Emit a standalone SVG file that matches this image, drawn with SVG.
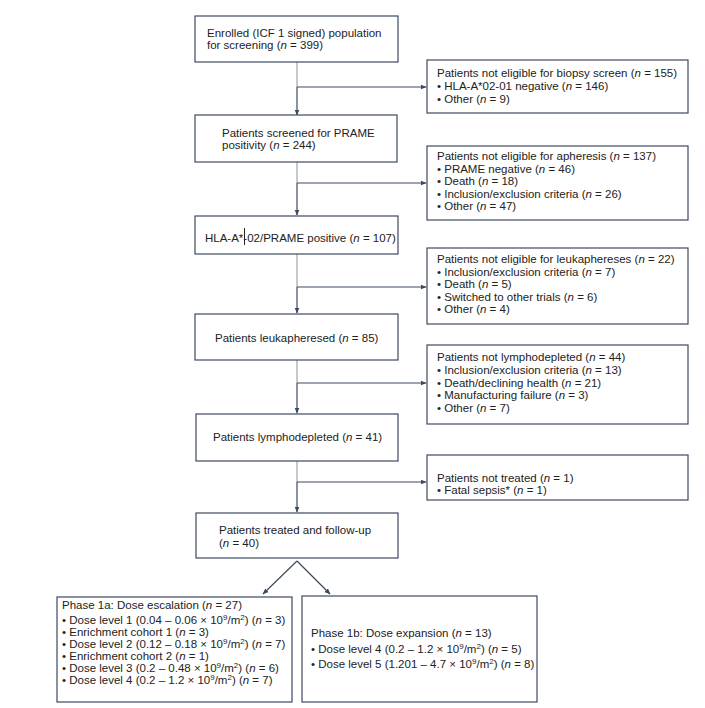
<svg xmlns="http://www.w3.org/2000/svg" width="705" height="708" viewBox="0 0 705 708">
<style>
.box{fill:#fff;stroke:#3b4a5e;stroke-width:1.2}
text{font-family:"Liberation Sans",Arial,sans-serif;font-size:11.5px;fill:#222}
.i{font-style:italic}
.sup{font-size:8px}
.up{stroke:#a0a4aa;stroke-width:1.2;fill:none}
.dn{stroke:#3b4a5e;stroke-width:1.2;fill:none}
</style>
<defs>
<marker id="ah" markerWidth="6" markerHeight="6" refX="5.5" refY="3" orient="auto" markerUnits="userSpaceOnUse">
<path d="M0,0.5 L6,3 L0,5.5 z" fill="#3b4a5e"/>
</marker>
</defs>
<rect width="705" height="708" fill="#fff"/>
<g id="connectors">
<line class="up" x1="297" y1="62" x2="297" y2="87"/>
<line class="dn" x1="297" y1="87" x2="297" y2="115" marker-end="url(#ah)"/>
<line class="dn" x1="297" y1="87" x2="426" y2="87" marker-end="url(#ah)"/>
<line class="up" x1="297" y1="162" x2="297" y2="183"/>
<line class="dn" x1="297" y1="183" x2="297" y2="215" marker-end="url(#ah)"/>
<line class="dn" x1="297" y1="183" x2="426" y2="183" marker-end="url(#ah)"/>
<line class="up" x1="297" y1="254" x2="297" y2="287"/>
<line class="dn" x1="297" y1="287" x2="297" y2="313" marker-end="url(#ah)"/>
<line class="dn" x1="297" y1="287" x2="426" y2="287" marker-end="url(#ah)"/>
<line class="up" x1="297" y1="360" x2="297" y2="383"/>
<line class="dn" x1="297" y1="383" x2="297" y2="413" marker-end="url(#ah)"/>
<line class="dn" x1="297" y1="383" x2="426" y2="383" marker-end="url(#ah)"/>
<line class="up" x1="297" y1="461" x2="297" y2="482"/>
<line class="dn" x1="297" y1="482" x2="297" y2="512" marker-end="url(#ah)"/>
<line class="dn" x1="297" y1="482" x2="426" y2="482" marker-end="url(#ah)"/>
<line class="dn" x1="297" y1="561" x2="263" y2="594" marker-end="url(#ah)"/>
<line class="dn" x1="297" y1="561" x2="330" y2="594" marker-end="url(#ah)"/>
</g>
<g id="enrolled">
<rect class="box" x="195" y="16" width="203" height="46"/>
<text x="207" y="37">Enrolled (ICF 1 signed) population</text>
<text x="207" y="49">for screening (<tspan class="i">n</tspan> = 399)</text>
</g>
<g id="excl1">
<rect class="box" x="427" y="60" width="261" height="53"/>
<text x="437" y="77">Patients not eligible for biopsy screen (<tspan class="i">n</tspan> = 155)</text>
<text x="437" y="90">• HLA-A*02-01 negative (<tspan class="i">n</tspan> = 146)</text>
<text x="437" y="103">• Other (<tspan class="i">n</tspan> = 9)</text>
</g>
<g id="screened">
<rect class="box" x="195" y="115" width="202" height="47"/>
<text x="222" y="137">Patients screened for PRAME</text>
<text x="222" y="149">positivity (<tspan class="i">n</tspan> = 244)</text>
</g>
<g id="excl2">
<rect class="box" x="427" y="146" width="261" height="74"/>
<text x="437" y="160">Patients not eligible for apheresis (<tspan class="i">n</tspan> = 137)</text>
<text x="437" y="172.5">• PRAME negative (<tspan class="i">n</tspan> = 46)</text>
<text x="437" y="185">• Death (<tspan class="i">n</tspan> = 18)</text>
<text x="437" y="197.5">• Inclusion/exclusion criteria (<tspan class="i">n</tspan> = 26)</text>
<text x="437" y="210">• Other (<tspan class="i">n</tspan> = 47)</text>
</g>
<g id="positive">
<rect class="box" x="195" y="216" width="203" height="38"/>
<text x="205" y="242">HLA-A*-02/PRAME positive (<tspan class="i">n</tspan> = 107)</text>
<line x1="244.5" y1="228" x2="244.5" y2="245" stroke="#222" stroke-width="1"/>
</g>
<g id="excl3">
<rect class="box" x="427" y="248" width="261" height="76"/>
<text x="437" y="263">Patients not eligible for leukaphereses (<tspan class="i">n</tspan> = 22)</text>
<text x="437" y="275.5">• Inclusion/exclusion criteria (<tspan class="i">n</tspan> = 7)</text>
<text x="437" y="288">• Death (<tspan class="i">n</tspan> = 5)</text>
<text x="437" y="300.5">• Switched to other trials (<tspan class="i">n</tspan> = 6)</text>
<text x="437" y="313">• Other (<tspan class="i">n</tspan> = 4)</text>
</g>
<g id="leukapheresed">
<rect class="box" x="195" y="314" width="203" height="46"/>
<text x="215" y="342">Patients leukapheresed (<tspan class="i">n</tspan> = 85)</text>
</g>
<g id="excl4">
<rect class="box" x="427" y="345" width="261" height="79"/>
<text x="437" y="361">Patients not lymphodepleted (<tspan class="i">n</tspan> = 44)</text>
<text x="437" y="374">• Inclusion/exclusion criteria (<tspan class="i">n</tspan> = 13)</text>
<text x="437" y="386.5">• Death/declining health (<tspan class="i">n</tspan> = 21)</text>
<text x="437" y="399">• Manufacturing failure (<tspan class="i">n</tspan> = 3)</text>
<text x="437" y="411.5">• Other (<tspan class="i">n</tspan> = 7)</text>
</g>
<g id="lymphodepleted">
<rect class="box" x="196" y="414" width="202" height="47"/>
<text x="213" y="441">Patients lymphodepleted (<tspan class="i">n</tspan> = 41)</text>
</g>
<g id="excl5">
<rect class="box" x="427" y="455" width="261" height="45"/>
<text x="437" y="482">Patients not treated (<tspan class="i">n</tspan> = 1)</text>
<text x="437" y="494">• Fatal sepsis* (<tspan class="i">n</tspan> = 1)</text>
</g>
<g id="treated">
<rect class="box" x="196" y="513" width="202" height="45"/>
<text x="219" y="534">Patients treated and follow-up</text>
<text x="219" y="547">(<tspan class="i">n</tspan> = 40)</text>
</g>
<g id="phase1a">
<rect class="box" x="57" y="597" width="235" height="105"/>
<text x="62" y="609">Phase 1a: Dose escalation (<tspan class="i">n</tspan> = 27)</text>
<text x="62" y="624">• Dose level 1 (0.04 – 0.06 × 10<tspan class="sup" dy="-4">9</tspan><tspan dy="4">/m</tspan><tspan class="sup" dy="-4">2</tspan><tspan dy="4">) (</tspan><tspan class="i">n</tspan> = 3)</text>
<text x="62" y="636">• Enrichment cohort 1 (<tspan class="i">n</tspan> = 3)</text>
<text x="62" y="648">• Dose level 2 (0.12 – 0.18 × 10<tspan class="sup" dy="-4">9</tspan><tspan dy="4">/m</tspan><tspan class="sup" dy="-4">2</tspan><tspan dy="4">) (</tspan><tspan class="i">n</tspan> = 7)</text>
<text x="62" y="660">• Enrichment cohort 2 (<tspan class="i">n</tspan> = 1)</text>
<text x="62" y="672">• Dose level 3 (0.2 – 0.48 × 10<tspan class="sup" dy="-4">9</tspan><tspan dy="4">/m</tspan><tspan class="sup" dy="-4">2</tspan><tspan dy="4">) (</tspan><tspan class="i">n</tspan> = 6)</text>
<text x="62" y="684">• Dose level 4 (0.2 – 1.2 × 10<tspan class="sup" dy="-4">9</tspan><tspan dy="4">/m</tspan><tspan class="sup" dy="-4">2</tspan><tspan dy="4">) (</tspan><tspan class="i">n</tspan> = 7)</text>
</g>
<g id="phase1b">
<rect class="box" x="302" y="596" width="235" height="106"/>
<text x="311" y="637">Phase 1b: Dose expansion (<tspan class="i">n</tspan> = 13)</text>
<text x="311" y="653">• Dose level 4 (0.2 – 1.2 × 10<tspan class="sup" dy="-4">9</tspan><tspan dy="4">/m</tspan><tspan class="sup" dy="-4">2</tspan><tspan dy="4">) (</tspan><tspan class="i">n</tspan> = 5)</text>
<text x="311" y="668">• Dose level 5 (1.201 – 4.7 × 10<tspan class="sup" dy="-4">9</tspan><tspan dy="4">/m</tspan><tspan class="sup" dy="-4">2</tspan><tspan dy="4">) (</tspan><tspan class="i">n</tspan> = 8)</text>
</g>
</svg>
